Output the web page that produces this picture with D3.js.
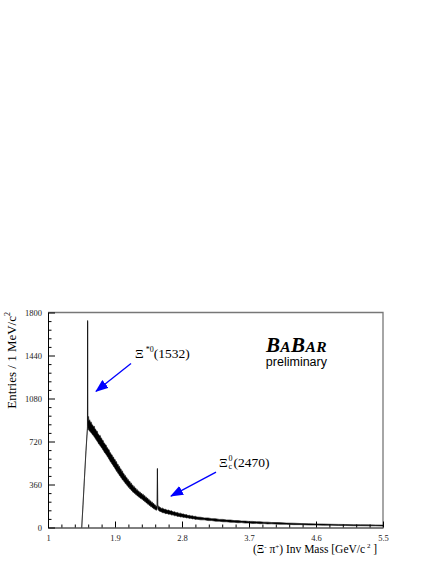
<!DOCTYPE html>
<html>
<head>
<meta charset="utf-8">
<script src="https://cdn.jsdelivr.net/npm/d3@7"></script>
<style>
  body { margin: 0; background: #fff; }
</style>
</head>
<body>
<div id="vis"></div>
<script>
// Xi- pi+ invariant mass spectrum, band edges (low / high)
const massPoints = [
  1.453, 1.470, 1.490, 1.510, 1.527, 1.530, 1.532, 1.534, 1.540, 1.545, 1.550,
  1.56, 1.57, 1.58, 1.59, 1.60, 1.61, 1.62, 1.63, 1.64, 1.65, 1.66, 1.67, 1.68, 1.69,
  1.70, 1.71, 1.72, 1.73, 1.74, 1.75, 1.76, 1.77, 1.78, 1.79, 1.80, 1.81, 1.82, 1.83,
  1.84, 1.85, 1.86, 1.87, 1.88, 1.89, 1.90, 1.91, 1.92, 1.93, 1.94, 1.95, 1.96, 1.97,
  1.98, 1.99, 2.00, 2.01, 2.02, 2.03, 2.04, 2.05, 2.06, 2.07, 2.08, 2.09, 2.10, 2.11,
  2.12, 2.13, 2.14, 2.15, 2.16, 2.17, 2.18, 2.19, 2.20, 2.21, 2.22, 2.23, 2.24, 2.25,
  2.26, 2.27, 2.28, 2.29, 2.30, 2.31, 2.32, 2.33, 2.34, 2.35, 2.36, 2.37, 2.38, 2.39,
  2.40, 2.41, 2.42, 2.43, 2.44, 2.45, 2.46, 2.466, 2.470, 2.474, 2.48, 2.49,
  2.50, 2.52, 2.54, 2.56, 2.58, 2.60, 2.62, 2.64, 2.66, 2.68, 2.70, 2.72, 2.74, 2.76,
  2.78, 2.80, 2.82, 2.84, 2.86, 2.88, 2.90, 2.92, 2.94, 2.96, 2.98, 3.00,
  3.05, 3.10, 3.15, 3.20, 3.25, 3.30, 3.35, 3.40, 3.45, 3.50, 3.55, 3.60, 3.65, 3.70,
  3.75, 3.80, 3.85, 3.90, 3.95, 4.00, 4.10, 4.20, 4.30, 4.40, 4.50, 4.60, 4.70, 4.80,
  4.90, 5.00, 5.10, 5.20, 5.30, 5.40, 5.50
];
const countsLow = [
  0, 182, 412, 634, 800, 826, 1726, 868, 818, 830, 812,
  808, 800, 792, 786, 774, 770, 760, 752, 740, 732, 722, 714, 700, 694,
  684, 678, 666, 660, 646, 640, 626, 622, 610, 604, 590, 584, 570, 564,
  548, 544, 530, 526, 510, 506, 492, 486, 470, 468, 452, 450, 434, 432,
  416, 414, 398, 398, 384, 380, 366, 366, 352, 350, 336, 336, 322, 322,
  310, 308, 296, 296, 286, 284, 274, 274, 264, 264, 254, 254, 244, 244,
  236, 236, 226, 226, 216, 216, 206, 206, 194, 196, 184, 186, 174, 176,
  166, 166, 156, 156, 148, 148, 144, 160, 488, 166, 148, 140,
  136, 132, 124, 124, 116, 118, 110, 112, 104, 106, 98, 100, 92, 94,
  88, 90, 84, 86, 80, 82, 76, 78, 72, 74, 68, 70,
  64, 64, 58, 58, 53, 53, 48, 48, 44, 44, 40, 41, 37, 38,
  34, 35, 32, 33, 30, 31, 28, 27, 24, 24, 21, 21, 19, 19,
  17, 17, 15, 15, 14, 14, 12
];
const countsHigh = [
  0, 190, 420, 644, 812, 842, 1734, 902, 892, 930, 890,
  902, 880, 884, 862, 858, 842, 850, 826, 822, 806, 808, 786, 780, 766,
  772, 750, 748, 728, 730, 708, 706, 690, 692, 670, 668, 650, 652, 628,
  626, 608, 610, 588, 590, 568, 572, 548, 552, 526, 532, 508, 512, 488,
  492, 468, 474, 450, 452, 432, 436, 414, 418, 398, 402, 382, 388, 366,
  372, 352, 356, 338, 344, 326, 330, 312, 318, 302, 306, 292, 296, 282,
  286, 272, 278, 262, 268, 252, 256, 242, 246, 230, 234, 218, 224, 208,
  214, 198, 202, 188, 190, 176, 180, 184, 496, 188, 182, 168,
  174, 160, 162, 152, 152, 144, 146, 138, 140, 130, 132, 124, 126, 118,
  120, 112, 114, 106, 108, 100, 102, 96, 98, 92, 94, 88,
  86, 80, 80, 74, 74, 68, 68, 63, 63, 58, 58, 54, 54, 51,
  51, 48, 48, 45, 45, 42, 41, 37, 36, 33, 32, 30, 29, 27,
  26, 25, 24, 23, 22, 21, 20
];

const xTicks = [1, 1.9, 2.8, 3.7, 4.6, 5.5];
const xTickLabels = ['1', '1.9', '2.8', '3.7', '4.6', '5.5'];
const yTicks = [0, 360, 720, 1080, 1440, 1800];

// arrows: tail -> head, in (mass, entries)
const arrowTails = [[2.115, 1374], [3.257, 464]];
const arrowHeads = [[1.645, 1140], [2.652, 263]];
const labelSpots = [[2.169, 1420], [3.297, 508]];

const serif = '"Liberation Serif", "Times New Roman", serif';
const sans = '"Liberation Sans", Arial, sans-serif';

const W = 436, H = 564;
const plot = { left: 48, right: 383, top: 312.5, bottom: 527.5 };

const svg = d3.select('#vis')
  .append('svg')
    .attr('width', W)
    .attr('height', H)
    .style('display', 'block')
    .style('font-family', serif);

svg.append('rect').attr('width', W).attr('height', H).attr('fill', '#fff');

const x = d3.scaleLinear().domain([1, 5.5]).range([plot.left, plot.right]);
const y = d3.scaleLinear().domain([0, 1800]).range([plot.bottom, plot.top]);

// frame top / right
svg.append('path')
  .attr('d', `M${plot.left},${plot.top}H${plot.right}V${plot.bottom}`)
  .attr('fill', 'none')
  .attr('stroke', '#777')
  .attr('stroke-width', 1.3);

// histogram band
const data = massPoints.map((m, i) => ({ m: m, lo: countsLow[i], hi: countsHigh[i] }));
const band = d3.area()
  .x(d => x(d.m))
  .y0(d => y(d.lo))
  .y1(d => y(d.hi));

svg.append('path')
  .datum(data)
  .attr('d', band)
  .attr('fill', '#000')
  .attr('stroke', '#111')
  .attr('stroke-width', 0.6)
  .attr('stroke-linejoin', 'round');

// axes
const xMinor = d3.range(1, 5.5001, 0.18).filter(v => !xTicks.some(t => Math.abs(t - v) < 1e-6));
const yMinor = d3.range(0, 1800.1, 72).filter(v => yTicks.indexOf(v) < 0);

svg.append('g')
  .attr('transform', `translate(0,${plot.bottom})`)
  .call(d3.axisBottom(x)
    .tickValues(xTicks)
    .tickFormat((d, i) => xTickLabels[i])
    .tickSizeInner(-6)
    .tickSizeOuter(0)
    .tickPadding(7));

svg.append('g')
  .attr('transform', `translate(0,${plot.bottom})`)
  .call(d3.axisBottom(x).tickValues(xMinor).tickFormat('').tickSize(-3))
  .call(g => g.select('.domain').remove());

svg.append('g')
  .attr('transform', `translate(${plot.left},0)`)
  .call(d3.axisLeft(y)
    .tickValues(yTicks)
    .tickFormat(d3.format('d'))
    .tickSizeInner(-7)
    .tickSizeOuter(0)
    .tickPadding(6));

svg.append('g')
  .attr('transform', `translate(${plot.left},0)`)
  .call(d3.axisLeft(y).tickValues(yMinor).tickFormat('').tickSize(-3.5))
  .call(g => g.select('.domain').remove());

svg.selectAll('.tick text')
  .style('font-family', serif)
  .style('font-size', '8.5px')
  .attr('fill', '#222');
svg.selectAll('.domain').attr('stroke', '#000');

// axis titles
svg.append('text')
  .attr('transform', 'translate(16,312) rotate(-90)')
  .attr('text-anchor', 'end')
  .style('font-size', '13px')
  .call(t => {
    t.append('tspan').text('Entries / 1 MeV/c');
    t.append('tspan').style('font-size', '8px').attr('dy', -6).text('2');
  });

svg.append('text')
  .attr('x', 253)
  .attr('y', 553)
  .style('font-size', '11.5px')
  .call(t => {
    t.append('tspan').text('(Ξ');
    t.append('tspan').style('font-size', '7px').attr('dy', -4).text('-');
    t.append('tspan').attr('dy', 4).text(' π');
    t.append('tspan').style('font-size', '7px').attr('dy', -4).text('+');
    t.append('tspan').attr('dy', 4).text(') Inv Mass [GeV/c');
    t.append('tspan').style('font-size', '7px').attr('dy', -5).text(' 2');
    t.append('tspan').attr('dy', 5).text(' ]');
  });

// arrows
svg.append('defs').append('marker')
  .attr('id', 'head')
  .attr('markerUnits', 'userSpaceOnUse')
  .attr('viewBox', '0 -5 13 10')
  .attr('refX', 12)
  .attr('refY', 0)
  .attr('markerWidth', 13)
  .attr('markerHeight', 10)
  .attr('orient', 'auto')
  .append('path')
    .attr('d', 'M0,-5L13,0L0,5Z')
    .attr('fill', '#0000ff');

arrowTails.forEach((a, i) => {
  const b = arrowHeads[i];
  svg.append('line')
    .attr('x1', x(a[0])).attr('y1', y(a[1]))
    .attr('x2', x(b[0])).attr('y2', y(b[1]))
    .attr('stroke', '#0000ff')
    .attr('stroke-width', 1.3)
    .attr('marker-end', 'url(#head)');
});

// peak labels
const l1 = svg.append('text')
  .attr('x', x(labelSpots[0][0]))
  .attr('y', y(labelSpots[0][1]))
  .style('font-size', '13.5px');
l1.append('tspan').text('Ξ');
l1.append('tspan').style('font-size', '8px').attr('dy', -6).text(' *0');
l1.append('tspan').attr('dy', 6).text('(1532)');

const lx = x(labelSpots[1][0]), ly = y(labelSpots[1][1]);
svg.append('text').attr('x', lx).attr('y', ly).style('font-size', '13.5px').text('Ξ');
svg.append('text').attr('x', lx + 9.5).attr('y', ly - 5.5).style('font-size', '8px').text('0');
svg.append('text').attr('x', lx + 9.5).attr('y', ly + 2).style('font-size', '8px').text('c');
svg.append('text').attr('x', lx + 14.5).attr('y', ly).style('font-size', '13.5px').text('(2470)');

// BaBar logo
const logo = svg.append('text')
  .attr('x', 327)
  .attr('y', 352)
  .attr('text-anchor', 'end')
  .style('font-family', serif)
  .style('font-weight', 'bold')
  .style('font-style', 'italic')
  .style('letter-spacing', '0.4px');
logo.append('tspan').style('font-size', '21px').text('B');
logo.append('tspan').style('font-size', '15.5px').text('A');
logo.append('tspan').style('font-size', '21px').text('B');
logo.append('tspan').style('font-size', '15.5px').text('AR');

svg.append('text')
  .attr('x', 327)
  .attr('y', 366)
  .attr('text-anchor', 'end')
  .style('font-family', sans)
  .style('font-size', '12.5px')
  .text('preliminary');
</script>
</body>
</html>
